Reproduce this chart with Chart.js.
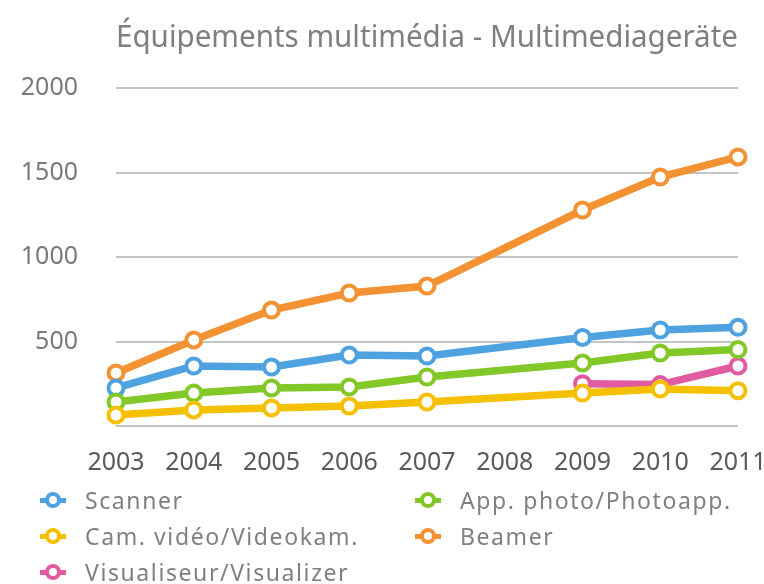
<!DOCTYPE html>
<html>
<head>
<meta charset="utf-8">
<script src="https://cdn.jsdelivr.net/npm/chart.js@4/dist/chart.umd.min.js"></script>
<style>
  html, body { margin:0; padding:0; background:#fff; }
  body { width:764px; height:584px; position:relative; overflow:hidden; font-family:"Noto Sans", sans-serif; }
  #wrap { position:absolute; left:0; top:0; width:764px; height:490px; }
  #legend { position:absolute; left:40px; top:482px; display:grid; grid-template-columns:375px 340px; row-gap:0; }
  .item { display:flex; align-items:center; height:36px; font-size:23px; letter-spacing:1.6px; color:#808080; }
  .mk { position:relative; width:26px; height:20px; margin-right:19px; }
  .mk .ln { position:absolute; left:0; right:0; top:8px; height:5px; }
  .mk .ring { position:absolute; left:5px; top:2px; width:8px; height:8px; border:4px solid; border-radius:50%; background:#fff; }
</style>
</head>
<body>
<div id="wrap"><canvas id="chart"></canvas></div>
<div id="legend"></div>
<script>
const years = ['2003','2004','2005','2006','2007','2008','2009','2010','2011'];
const yTicks = [0, 500, 1000, 1500, 2000];

const scanner = [225, 355, 349, 420, 414, null, 524, 568, 584];
const camVideo = [65, 95, 107, 118, 142, null, 195, 219, 209];
const visualiseur = [null, null, null, null, null, null, 250, 245, 355];
const appPhoto = [142, 195, 225, 231, 290, null, 373, 432, 452];
const beamer = [314, 509, 686, 787, 828, null, 1278, 1473, 1592];

const legendOrder = ['Scanner', 'App. photo/Photoapp.', 'Cam. vidéo/Videokam.', 'Beamer', 'Visualiseur/Visualizer'];

function line(label, data, color, order) {
  return {
    label, data, order,
    borderColor: color, backgroundColor: '#fff',
    borderWidth: 7.5, pointRadius: 7.5, pointBorderWidth: 4,
    pointBackgroundColor: '#fff', pointBorderColor: color,
    spanGaps: true, clip: false, tension: 0
  };
}

const datasets = [
  line('Scanner', scanner, '#4fa2e0', 3),
  line('Cam. vidéo/Videokam.', camVideo, '#f4c000', 0),
  line('Visualiseur/Visualizer', visualiseur, '#e25a9f', 2),
  line('App. photo/Photoapp.', appPhoto, '#82c828', 1),
  line('Beamer', beamer, '#f39233', 4)
];

const chart = new Chart(document.getElementById('chart'), {
  type: 'line',
  data: { labels: years, datasets },
  options: {
    responsive: true,
    maintainAspectRatio: false,
    animation: false,
    layout: { padding: { left: 0, right: 26, top: 0, bottom: 0 } },
    plugins: {
      legend: { display: false },
      tooltip: { enabled: false },
      title: {
        display: true,
        fullSize: false,
        text: 'Équipements multimédia - Multimediageräte',
        color: '#7f7f7f',
        font: { family: 'Noto Sans', size: 30, weight: 'normal' },
        padding: { top: 20, bottom: 32 }
      }
    },
    scales: {
      x: {
        offset: false,
        grid: { display: false },
        border: { display: false },
        ticks: { color: '#5a5a5a', font: { family: 'Noto Sans', size: 25 }, padding: 14, maxRotation: 0, autoSkip: false },
        afterFit: s => { s.height = 64; s.paddingLeft = 0; s.paddingRight = 0; }
      },
      y: {
        min: yTicks[0], max: yTicks[yTicks.length - 1],
        afterBuildTicks: s => { s.ticks = yTicks.map(v => ({ value: v })); },
        grid: { color: '#c4c4c4', lineWidth: 2, drawTicks: false },
        border: { display: false },
        ticks: {
          color: '#7a7a7a', font: { family: 'Noto Sans', size: 25 }, padding: 38,
          callback: v => v === 0 ? '' : v
        },
        afterFit: s => { s.width = 116; }
      }
    }
  }
});

const lg = document.getElementById('legend');
legendOrder.forEach(name => {
  const ds = datasets.find(d => d.label === name);
  const it = document.createElement('div');
  it.className = 'item';
  it.innerHTML = '<span class="mk"><span class="ln" style="background:' + ds.borderColor + '"></span><span class="ring" style="border-color:' + ds.borderColor + '"></span></span><span></span>';
  it.lastChild.textContent = name;
  lg.appendChild(it);
});
</script>
</body>
</html>
